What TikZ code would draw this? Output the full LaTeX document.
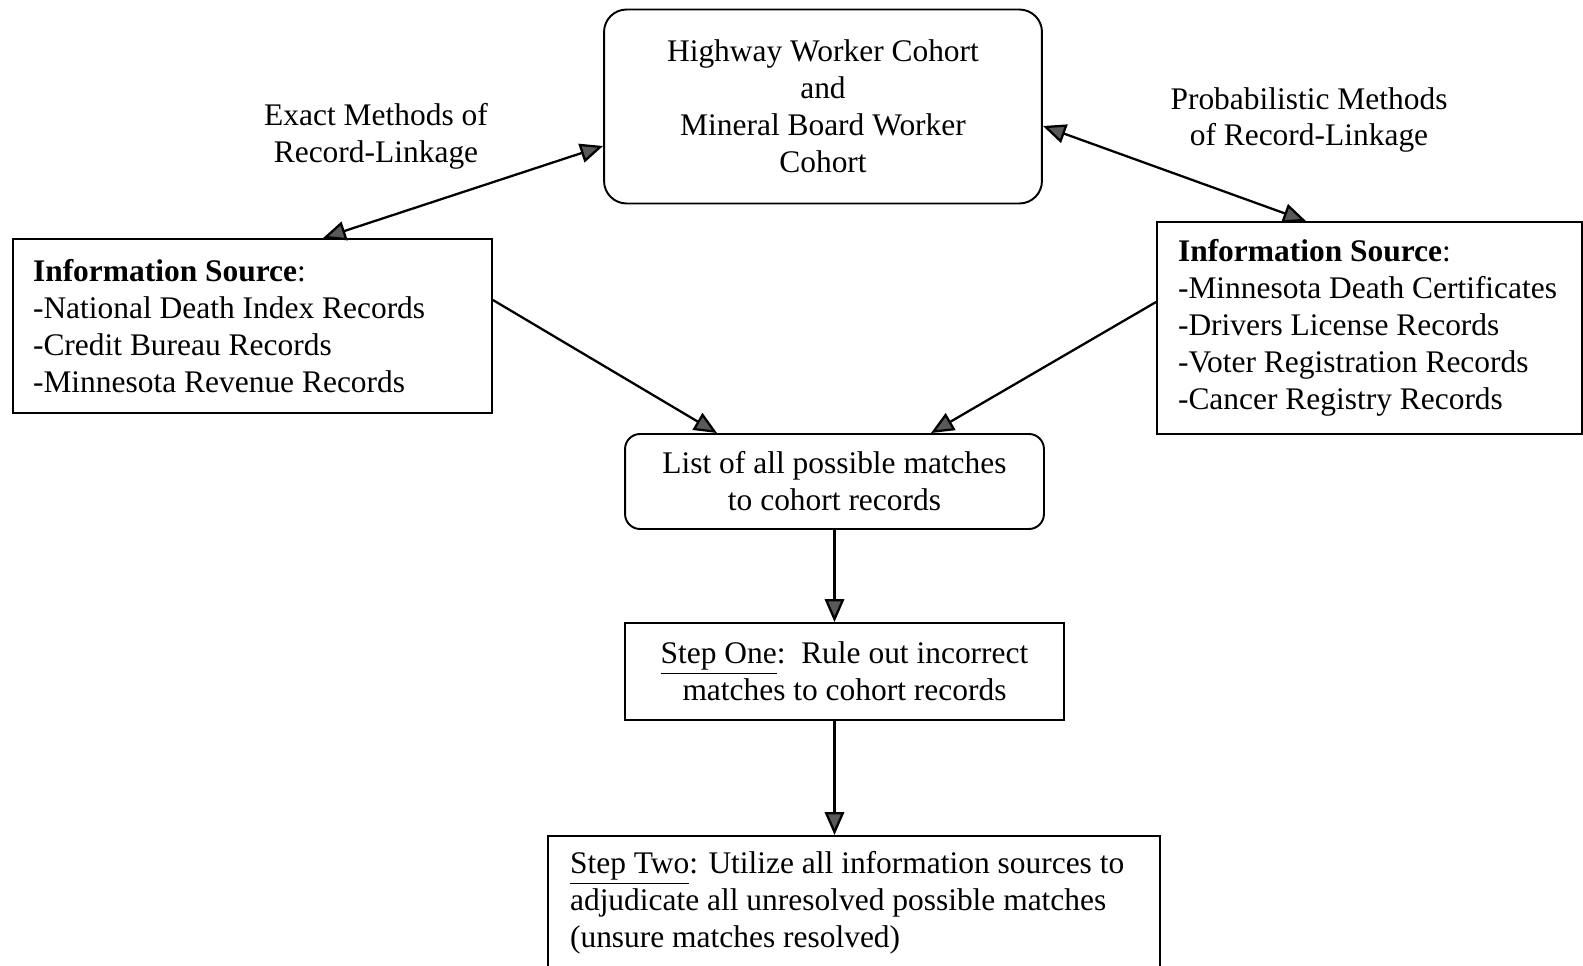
\documentclass[tikz,border=0pt]{standalone}
\usepackage{fontspec}
\setmainfont{Liberation Serif}
\usepackage{tikz}
\usetikzlibrary{arrows.meta}
\usetikzlibrary{positioning}

\begin{document}
\begin{tikzpicture} [
	x=0.02cm, y=-0.02cm, % one unit is one pixel of the layout
	line width=1.1pt,
	every node/.style={font=\fontsize{17.9}{21}\selectfont},
	box/.style={draw, line width=1.1pt, inner sep=0pt}, % square boxes
	rbox/.style={box, rounded corners=0.45cm}, % rounded boxes
	link/.style={line width=1.3pt, -{Triangle[length=13pt,width=11pt,fill=black!65]}},
	dlink/.style={line width=1.3pt, {Triangle[length=13pt,width=11pt,fill=black!65]}-{Triangle[length=13pt,width=11pt,fill=black!65]}},
	]
	\useasboundingbox (0,0) rectangle (1583,966);

	\node[rbox, minimum width=8.76cm, minimum height=3.88cm, align=center] (cohort) at (823,106.5)
		{Highway Worker Cohort\\and\\Mineral Board Worker\\Cohort};
	\node[box, minimum width=9.58cm, minimum height=3.48cm, text width=8.78cm, align=flush left] (exact) at (252.5,326)
		{\textbf{Information Source}:\\-National Death Index Records\\-Credit Bureau Records\\-Minnesota Revenue Records};
	\node[box, minimum width=8.5cm, minimum height=4.24cm, text width=7.66cm, align=flush left] (prob) at (1369.5,328)
		{\textbf{Information Source}:\\-Minnesota Death Certificates\\-Drivers License Records\\-Voter Registration Records\\-Cancer Registry Records};
	\node[rbox, rounded corners=0.3cm, minimum width=8.38cm, minimum height=1.9cm, align=center] (matches) at (834.5,481.5)
		{List of all possible matches\\to cohort records};
	\node[box, minimum width=8.78cm, minimum height=1.94cm, align=center] (stepone) at (844.5,671.5)
		{\underline{Step One}:\ \ Rule out incorrect\\matches to cohort records};
	\node[box, anchor=north, minimum width=12.24cm, minimum height=2.68cm, text width=11.36cm, align=flush left] (steptwo) at (854,835)
		{\underline{Step Two}: Utilize all information sources to\\adjudicate all unresolved possible matches\\(unsure matches resolved)};

	\node[align=center] (exactlbl) at (376,136) {Exact Methods of\\Record-Linkage};
	\node[align=center] (problbl) at (1309,120) {Probabilistic Methods\\of Record-Linkage};

	\draw[dlink] ([yshift=-0.79cm]cohort.west) -- ([xshift=1.41cm]exact.north);
	\draw[dlink] ([yshift=-0.39cm]cohort.east) -- ([xshift=-1.27cm]prob.north);
	\draw[link] ([yshift=0.52cm]exact.east) -- ([xshift=-2.35cm]matches.north);
	\draw[link] ([yshift=0.52cm]prob.west) -- ([xshift=1.93cm]matches.north);
	\draw[link] (matches.south) -- (matches.south |- stepone.north);
	\draw[link] (stepone.south -| matches.south) -- (matches.south |- steptwo.north);
\end{tikzpicture}
\end{document}
